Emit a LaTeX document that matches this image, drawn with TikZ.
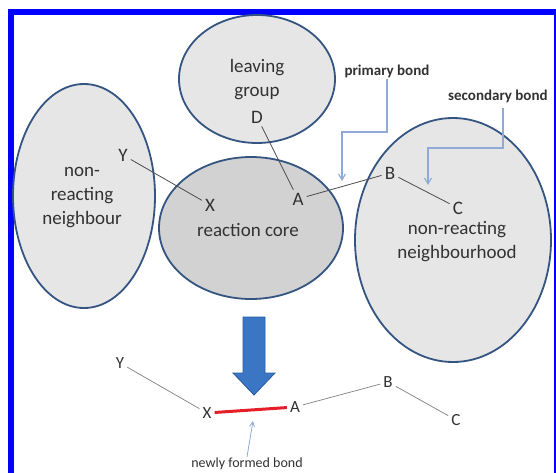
\documentclass[tikz,border=0pt]{standalone}
\usepackage{fontspec}
\setmainfont{Carlito}
\usetikzlibrary{arrows.meta}
\definecolor{frameblue}{RGB}{0,0,255}
\definecolor{edgeblue}{RGB}{52,84,130}
\definecolor{fillA}{RGB}{230,230,230}
\definecolor{fillB}{RGB}{210,210,210}
\definecolor{txt}{RGB}{50,50,50}
\definecolor{connblue}{RGB}{143,170,214}
\definecolor{arrowblue}{RGB}{58,118,196}
\definecolor{arrowedge}{RGB}{40,90,160}
\definecolor{bondred}{RGB}{230,30,40}
\tikzset{
  blob/.style={draw=edgeblue, line width=1.8pt},
  lbl/.style={text=txt, font=\fontsize{19}{24}\selectfont, align=center, inner sep=0pt},
  atom/.style={text=txt, font=\fontsize{19}{22}\selectfont, inner sep=3pt},
  atomb/.style={text=txt, font=\fontsize{17}{20}\selectfont, inner sep=3pt},
  note/.style={text=txt, font=\bfseries\fontsize{15}{17}\selectfont, inner sep=1pt},
  bond/.style={draw=black!70, line width=0.8pt},
  bondlight/.style={draw=black!50, line width=0.7pt},
  conn/.style={draw=connblue, line width=1.1pt, -{Straight Barb[length=6pt,width=7pt]}},
}
\begin{document}
\begin{tikzpicture}[x=1pt,y=-1pt]
\useasboundingbox (0,0) rectangle (556,472);
\clip (0,0) rectangle (556,472);
\fill[white] (0,0) rectangle (556,472);
% frame
\draw[frameblue, line width=6pt] (11,12) rectangle (557,482);
% ellipses
\filldraw[blob, fill=fillA] (84,196) ellipse [x radius=71, y radius=112];
\filldraw[blob, fill=fillA] (257,79) ellipse [x radius=78, y radius=64];
\filldraw[blob, fill=fillB] (251,228) ellipse [x radius=92, y radius=71];
\filldraw[blob, fill=fillA] (453,240) ellipse [x radius=98, y radius=122];
% ellipse texts
\node[lbl] (nrn) at (82,198) {non-\\reacting\\neighbour};
\node[lbl] (lg) at (257,80) {leaving\\group};
\node[lbl] (rc) at (248,230) {reaction core};
\node[lbl] (nrnh) at (457,242) {non-reacting\\neighbourhood};
% atoms top
\node[atom] (Y) at (123,155) {Y};
\node[atom] (X) at (210,205) {X};
\node[atom] (D) at (257,117) {D};
\node[atom] (A) at (298,199) {A};
\node[atom] (B) at (390,173) {B};
\node[atom, inner sep=0.5pt] (C) at (458,208) {C};
\draw[bond] (Y) -- (X);
\draw[bond] (D) -- (A);
\draw[bond] (A) -- (B);
\draw[bond, shorten >=3pt] (B) -- (C);
% notes
\node[note] (pb) at (387,71) {primary bond};
\node[note, anchor=west] (sb) at (447,96) {secondary bond};
\coordinate (pbk1) at (387,132);
\coordinate (pbk2) at (342,132);
\coordinate (pbtip) at (342,181);
\draw[conn] (pb.south) -- (pbk1) -- (pbk2) -- (pbtip);
\coordinate (sbk0) at (503,108);
\coordinate (sbk1) at (503,148);
\coordinate (sbk2) at (428,148);
\coordinate (sbtip) at (428,185);
\draw[conn] (sbk0) -- (sbk1) -- (sbk2) -- (sbtip);
% big arrow
\filldraw[fill=arrowblue, draw=arrowedge, line width=0.8pt]
  (243,317) -- (265,317) -- (265,373) -- (275,373) -- (254,395) -- (233,373) -- (243,373) -- cycle;
% product
\node[atomb] (Y2) at (120,363) {Y};
\node[atomb] (X2) at (207,413) {X};
\node[atomb] (A2) at (295,407) {A};
\node[atomb] (B2) at (388,382) {B};
\node[atomb] (C2) at (456,420) {C};
\draw[bondlight] (Y2) -- (X2);
\draw[bond, draw=bondred, line width=3pt] (X2) -- (A2);
\draw[bondlight] (A2) -- (B2);
\draw[bondlight] (B2) -- (C2);
\node[note, font=\fontsize{14}{16}\selectfont] (nfb) at (247,464) {newly formed bond};
\coordinate (nfbtip) at (253,421);
\draw[conn, line width=0.8pt, -{Straight Barb[length=5pt,width=5pt]}] (nfb.north) -- (nfbtip);
\end{tikzpicture}
\end{document}
